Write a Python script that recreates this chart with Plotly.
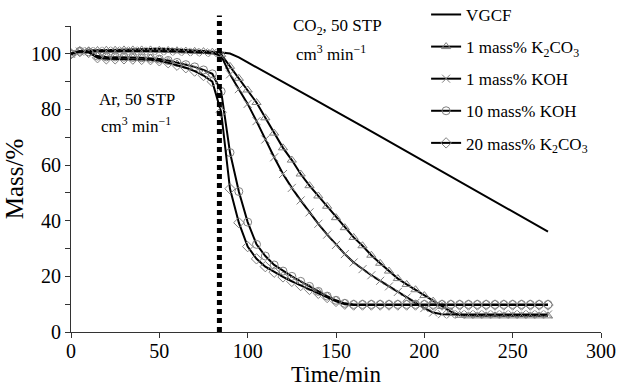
import plotly.graph_objects as go

time_min = [0, 5, 10, 15, 20, 25, 30, 35, 40, 45, 50, 55, 60, 65, 70, 75, 80, 85, 90, 95,
            100, 105, 110, 115, 120, 125, 130, 135, 140, 145, 150, 155, 160, 165, 170, 175,
            180, 185, 190, 195, 200, 205, 210, 215, 220, 225, 230, 235, 240, 245, 250, 255,
            260, 265, 270]

vgcf = [100.0, 101.0, 101.2, 101.3, 101.4, 101.5, 101.6, 101.7, 101.8, 101.8, 101.8, 101.7,
        101.6, 101.4, 101.2, 101.0, 100.8, 100.5, 100.1, 98.7, 96.9, 95.1, 93.4, 91.6, 89.8,
        88.1, 86.3, 84.6, 82.8, 81.0, 79.3, 77.5, 75.7, 73.9, 72.1, 70.3, 68.5, 66.7, 64.9,
        63.1, 61.3, 59.5, 57.7, 55.9, 54.1, 52.3, 50.5, 48.7, 46.9, 45.1, 43.3, 41.5, 39.7,
        37.9, 36.1]

k2co3_1 = [100.0, 100.9, 101.1, 101.2, 101.3, 101.3, 101.4, 101.4, 101.4, 101.4, 101.3, 101.2,
           101.1, 101.0, 100.9, 100.8, 100.6, 99.8, 95.5, 91.2, 87.0, 82.5, 77.0, 71.5, 66.2,
           61.8, 56.8, 52.6, 48.9, 45.2, 41.1, 37.5, 34.0, 31.0, 27.6, 24.7, 21.9, 19.2, 17.1,
           15.2, 13.1, 11.1, 9.2, 7.3, 6.0, 5.8, 5.8, 5.8, 5.8, 5.8, 5.8, 5.8, 5.8, 5.8, 5.8]

koh_1 = [100.0, 100.8, 101.0, 101.0, 101.1, 101.1, 101.1, 101.1, 101.1, 101.0, 101.0, 100.9,
         100.8, 100.7, 100.6, 100.5, 100.3, 99.3, 92.6, 87.3, 82.0, 75.8, 69.2, 62.8, 56.8,
         51.8, 47.3, 43.0, 38.9, 35.0, 31.3, 28.0, 25.0, 22.6, 20.4, 18.4, 16.4, 14.4, 12.4,
         10.5, 8.6, 7.0, 6.4, 6.3, 6.3, 6.3, 6.3, 6.3, 6.3, 6.3, 6.3, 6.3, 6.3, 6.3, 6.3]

koh_10 = [100.0, 100.9, 100.7, 99.2, 98.9, 98.9, 98.8, 98.7, 98.6, 98.4, 98.1, 97.6,
          96.9, 96.1, 95.3, 94.2, 92.8, 86.5, 64.5, 50.5, 39.5, 31.5, 27.3, 24.1, 21.9,
          20.0, 18.2, 16.4, 14.6, 12.9, 11.4, 10.3, 9.9, 9.9, 9.9, 9.9, 9.9, 9.9, 9.9,
          9.9, 9.9, 9.9, 9.9, 9.9, 9.9, 9.9, 9.9, 9.9, 9.9, 9.9, 9.9, 9.9, 9.9, 9.9, 9.9]

k2co3_20 = [100.0, 100.8, 100.5, 98.6, 98.2, 98.2, 98.2, 98.1, 98.0, 97.9, 97.5, 96.8,
            95.9, 95.0, 93.8, 92.2, 90.0, 79.0, 51.5, 39.3, 30.7, 26.3, 23.5, 21.5, 19.8,
            18.2, 16.7, 15.3, 13.9, 12.4, 11.0, 10.0, 9.7, 9.7, 9.7, 9.7, 9.7, 9.7, 9.7,
            9.7, 9.7, 9.7, 9.7, 9.7, 9.7, 9.7, 9.7, 9.7, 9.7, 9.7, 9.7, 9.7, 9.7, 9.7, 9.7]

gas_switch_time = 84

FONT = "Liberation Serif"
GRAY = "#808080"

series = [
    ("VGCF", vgcf, None),
    ("1 mass% K<sub>2</sub>CO<sub>3</sub>", k2co3_1, "triangle-up-open"),
    ("1 mass% KOH", koh_1, "x-thin-open"),
    ("10 mass% KOH", koh_10, "circle-open"),
    ("20 mass% K<sub>2</sub>CO<sub>3</sub>", k2co3_20, "diamond-open"),
]

fig = go.Figure()
for i, (name, vals, sym) in enumerate(series):
    if sym is None:
        fig.add_trace(go.Scatter(x=time_min, y=vals, mode="lines", name=name,
                                 legendgroup=str(i),
                                 line=dict(color="black", width=2)))
    else:
        fig.add_trace(go.Scatter(x=time_min, y=vals, mode="lines+markers", name=name,
                                 legendgroup=str(i),
                                 line=dict(color="black", width=2),
                                 marker=dict(symbol=sym, size=8, color=GRAY,
                                             line=dict(color=GRAY, width=1))))

fig.add_shape(type="line", xref="x", yref="paper", x0=gas_switch_time, x1=gas_switch_time,
              y0=0, y1=1.034, line=dict(color="black", width=5, dash="5px,4px"))

ann_font = dict(family=FONT, size=17, color="black")
fig.add_annotation(x=37.5, y=83.5, text="Ar, 50 STP", showarrow=False, font=ann_font)
fig.add_annotation(x=37, y=74.5, text="cm<sup>3</sup> min<sup>\u22121</sup>", showarrow=False, font=ann_font)
fig.add_annotation(x=151, y=109.7, text="CO<sub>2</sub>, 50 STP", showarrow=False, font=ann_font)
fig.add_annotation(x=147, y=100.4, text="cm<sup>3</sup> min<sup>\u22121</sup>", showarrow=False, font=ann_font)

fig.update_layout(
    width=618, height=387,
    margin=dict(l=71, r=17, t=26, b=55, autoexpand=False),
    paper_bgcolor="white", plot_bgcolor="white",
    font=dict(family=FONT, size=20, color="black"),
    showlegend=True,
    legend=dict(x=0.67, y=1.095, xanchor="left", yanchor="top",
                font=dict(family=FONT, size=17, color="black"),
                bgcolor="rgba(0,0,0,0)", traceorder="grouped", tracegroupgap=7),
    xaxis=dict(range=[0, 300], tickvals=[0, 50, 100, 150, 200, 250, 300], automargin=False,
               showgrid=False, zeroline=False, showline=True, linecolor="#333333",
               linewidth=1.2, ticks="outside", ticklen=5, tickcolor="#333333",
               ticklabelstandoff=-4,
               tickfont=dict(family=FONT, size=20),
               title=dict(text="Time/min", font=dict(family=FONT, size=23), standoff=2)),
    yaxis=dict(range=[0, 110], tickvals=[0, 20, 40, 60, 80, 100], automargin=False,
               showgrid=False, zeroline=False, showline=True, linecolor="#333333",
               linewidth=1.2, ticks="outside", ticklen=5, tickcolor="#333333",
               minor=dict(tickvals=[10, 30, 50, 70, 90, 110], ticks="outside", ticklen=5,
                          tickcolor="#333333"),
               tickfont=dict(family=FONT, size=20),
               title=dict(text="Mass/%", font=dict(family=FONT, size=25), standoff=0)),
)

fig.write_html("out.html")
